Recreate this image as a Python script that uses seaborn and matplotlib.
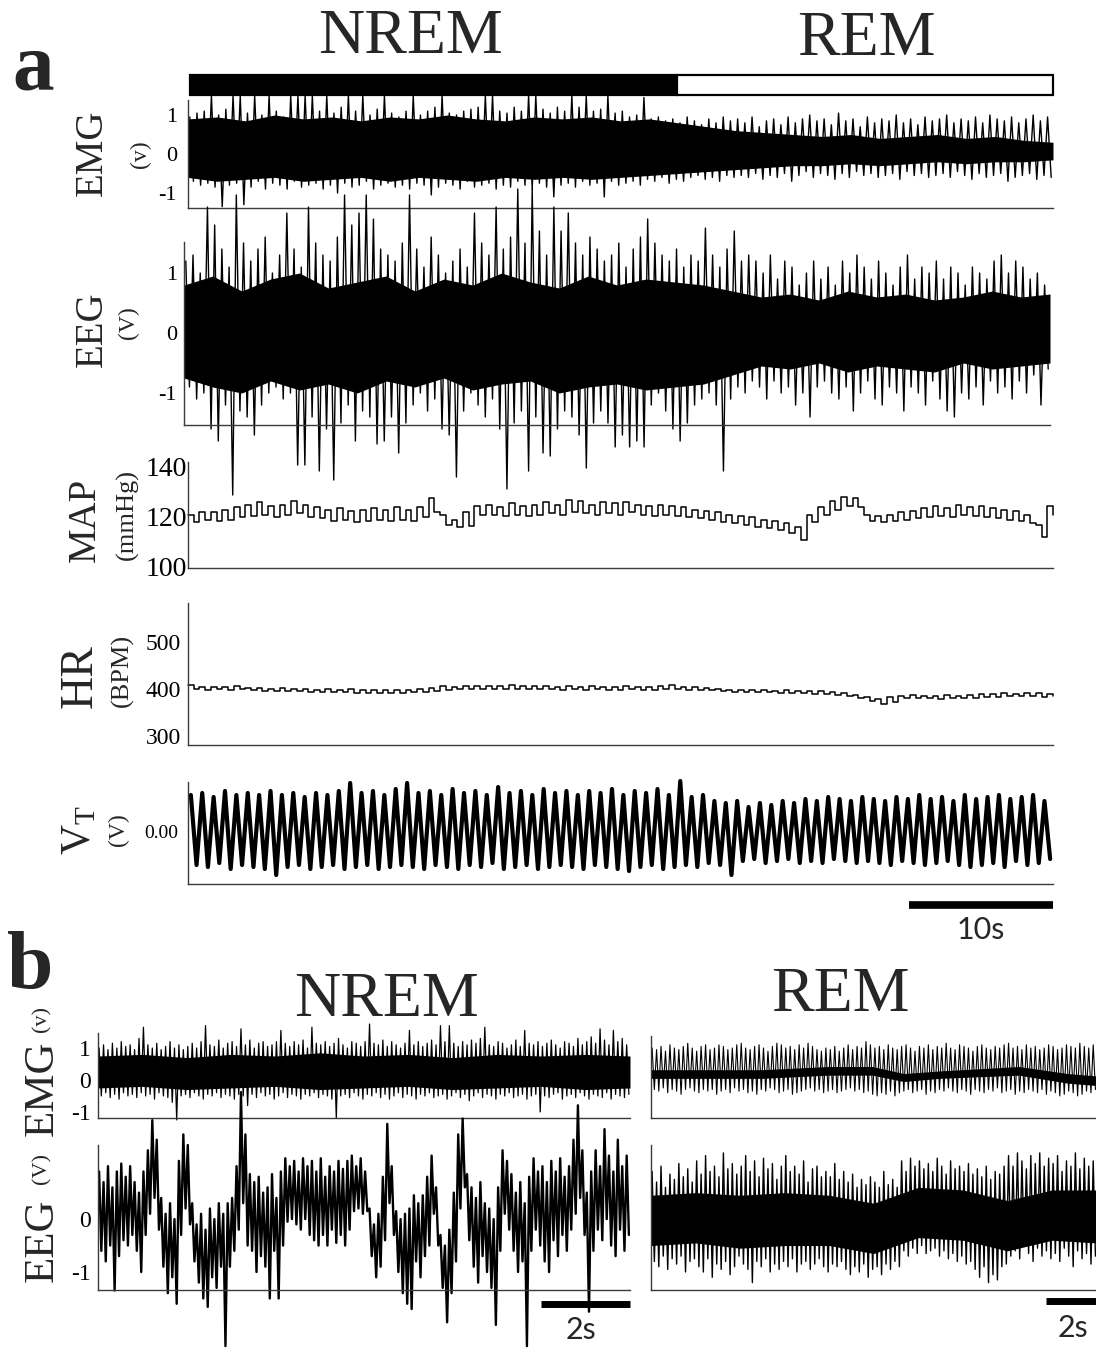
import numpy as np
import matplotlib
matplotlib.use("Agg")
import matplotlib.pyplot as plt
import seaborn as sns

# ---------------- data ----------------
# state bar (seconds)
state_names = ["NREM", "REM"]
state_start = [0.15, 33.9]
state_dur = [33.75, 26.1]

# panel a: EMG (V) per 0.5 s: upper / lower extremes
emg_a_hi = [0.95, 1.05, 1.1, 1.5, 1.0, 1.15, 1.5, 1.5, 1.05, 1.5,
            1.0, 1.5, 1.1, 0.95, 1.5, 1.5, 1.5, 1.5, 1.1, 1.5,
            1.05, 1.2, 1.5, 1.1, 1.5, 1.0, 1.15, 1.5, 1.05, 0.95,
            1.1, 1.5, 1.0, 1.1, 1.2, 1.5, 1.05, 1.0, 1.1, 1.15,
            1.2, 1.5, 1.5, 1.1, 1.05, 1.2, 1.1, 1.5, 1.5, 1.15,
            1.05, 1.2, 1.1, 1.5, 1.2, 1.5, 1.1, 1.15, 1.5, 1.05,
            1.1, 0.95, 1.0, 1.45, 0.9, 0.95, 0.85, 0.9, 0.8, 0.95,
            0.85, 0.75, 0.9, 0.8, 0.95, 0.85, 0.9, 0.8, 0.95, 0.7,
            0.85, 0.9, 0.75, 0.95, 0.8, 0.9, 1.0, 0.85, 0.9, 0.75,
            1.05, 0.85, 0.9, 0.7, 0.95, 0.8, 0.9, 0.85, 1.0, 0.8,
            0.9, 0.75, 0.95, 0.85, 0.9, 1.0, 0.8, 0.9, 0.85, 0.95,
            0.8, 1.0, 0.9, 0.85, 0.95, 0.8, 0.9, 1.0, 0.85, 0.95]
emg_a_lo = [-0.7, -0.8, -0.75, -0.85, -1.35, -0.8, -0.75, -1.3, -0.85, -0.7,
            -0.9, -0.75, -0.8, -0.9, -0.7, -0.85, -0.8, -0.75, -0.9, -0.8,
            -1.0, -0.75, -0.85, -0.8, -0.7, -0.9, -0.8, -0.75, -0.85, -0.8,
            -0.9, -0.75, -0.8, -1.05, -0.85, -0.75, -0.8, -0.9, -0.7, -0.85,
            -0.8, -0.75, -0.9, -0.8, -0.85, -0.7, -0.8, -0.9, -0.75, -0.85,
            -1.1, -0.8, -0.75, -0.85, -0.7, -0.8, -0.75, -1.1, -0.7, -0.8,
            -0.75, -0.7, -0.8, -0.65, -0.7, -0.6, -0.75, -0.65, -0.7, -0.6,
            -0.55, -0.65, -0.6, -0.7, -0.55, -0.6, -0.55, -0.6, -0.5, -0.65,
            -0.55, -0.6, -0.5, -0.7, -0.55, -0.45, -0.6, -0.5, -0.55, -0.65,
            -0.5, -0.6, -0.45, -0.55, -0.5, -0.6, -0.55, -0.5, -0.65, -0.45,
            -0.55, -0.5, -0.6, -0.55, -0.5, -0.6, -0.45, -0.55, -0.65, -0.5,
            -0.6, -0.55, -0.5, -0.7, -0.6, -0.55, -0.5, -0.65, -0.55, -0.6]
# dense part of the EMG band, every 2 s
emg_a_core_hi = [0.9, 0.95, 0.85, 1.0, 0.9, 0.95, 0.85, 0.95, 0.9, 1.0,
                 0.9, 0.85, 0.95, 0.9, 0.95, 0.85, 0.9, 0.8, 0.7, 0.6,
                 0.55, 0.5, 0.45, 0.5, 0.4, 0.45, 0.5, 0.4, 0.45, 0.35, 0.3]
emg_a_core_lo = [-0.6, -0.7, -0.65, -0.6, -0.7, -0.65, -0.6, -0.7, -0.6, -0.65,
                 -0.7, -0.6, -0.65, -0.6, -0.65, -0.6, -0.55, -0.5, -0.45, -0.4,
                 -0.35, -0.3, -0.3, -0.25, -0.3, -0.25, -0.2, -0.25, -0.2, -0.2, -0.15]

# panel a: EEG (V) per 0.5 s
eeg_a_hi = [1.2, 1.3, 1.0, 2.1, 1.8, 1.4, 1.1, 2.3, 1.5, 1.2,
            1.4, 1.6, 1.0, 1.3, 2.0, 1.4, 1.1, 2.1, 1.5, 1.3,
            1.2, 1.6, 2.3, 1.8, 2.0, 2.3, 1.9, 1.4, 1.3, 1.2,
            1.5, 2.3, 1.4, 1.1, 1.6, 1.3, 1.0, 1.2, 1.4, 1.1,
            2.0, 1.5, 1.3, 2.1, 1.4, 1.6, 2.4, 1.5, 2.4, 1.7,
            1.3, 2.1, 1.7, 2.0, 1.5, 1.3, 1.6, 1.4, 1.2, 1.3,
            1.5, 1.1, 1.4, 1.6, 1.9, 1.5, 1.3, 1.2, 1.4, 1.1,
            1.3, 1.2, 1.75, 1.3, 1.1, 1.4, 1.7, 1.2, 1.3, 1.2,
            1.0, 1.3, 0.9, 1.2, 1.1, 0.8, 1.0, 1.2, 0.9, 1.1,
            0.8, 1.2, 1.0, 1.3, 1.1, 0.9, 1.2, 1.0, 0.8, 1.1,
            1.3, 0.9, 1.1, 1.0, 1.2, 0.9, 1.1, 1.0, 0.8, 1.1,
            1.0, 0.9, 1.2, 1.3, 1.0, 1.2, 1.1, 0.9, 1.0, 0.8]
eeg_a_lo = [-0.9, -1.1, -1.0, -1.6, -1.8, -1.2, -2.7, -1.3, -1.4, -1.7,
            -1.2, -1.0, -0.9, -1.1, -1.0, -2.2, -2.2, -1.4, -2.3, -1.6,
            -2.45, -1.5, -1.2, -1.8, -1.3, -1.4, -1.85, -1.8, -1.4, -2.0,
            -1.5, -1.2, -1.0, -1.3, -1.1, -1.6, -1.7, -2.4, -1.3, -1.0,
            -1.2, -1.4, -1.1, -1.6, -2.6, -1.5, -1.3, -2.3, -1.4, -2.0,
            -2.05, -1.6, -1.3, -1.4, -1.7, -2.25, -1.5, -1.3, -1.5, -1.9,
            -1.7, -1.9, -1.8, -1.9, -1.2, -1.0, -1.3, -1.6, -1.8, -1.5,
            -1.2, -1.1, -1.0, -1.2, -2.3, -1.1, -0.9, -1.0, -0.8, -0.9,
            -1.1, -0.8, -1.0, -0.9, -1.2, -1.0, -1.4, -0.9, -0.8, -1.0,
            -1.1, -0.9, -1.3, -1.0, -0.8, -1.1, -1.2, -0.9, -1.0, -1.3,
            -0.9, -1.0, -1.2, -0.8, -1.1, -1.3, -1.4, -1.0, -1.1, -0.9,
            -1.2, -0.8, -1.0, -0.9, -1.1, -0.8, -1.0, -0.7, -1.2, -0.6]
# dense part of the EEG band, every 2 s
eeg_a_core_hi = [0.8, 0.95, 0.7, 0.9, 1.0, 0.75, 0.85, 0.95, 0.7, 0.9,
                 0.8, 1.0, 0.85, 0.75, 0.95, 0.8, 0.9, 0.85, 0.8, 0.7,
                 0.6, 0.65, 0.55, 0.7, 0.6, 0.65, 0.55, 0.6, 0.7, 0.6, 0.65]
eeg_a_core_lo = [-0.75, -0.9, -1.0, -0.8, -0.95, -0.85, -1.0, -0.8, -0.9, -0.75,
                 -0.95, -0.85, -0.8, -1.0, -0.9, -0.85, -0.95, -0.9, -0.85, -0.7,
                 -0.55, -0.6, -0.5, -0.65, -0.55, -0.6, -0.65, -0.5, -0.6, -0.55, -0.5]

# panel a: MAP (mmHg), two levels per breath
map_hi = [121, 122, 122, 123, 124, 125, 126, 124.5, 125, 126.5,
          125, 124, 123, 123.5, 122.5, 123, 123.5, 123, 124, 123,
          124, 127.5, 121, 119, 122, 124.5, 125, 124, 125.5, 124.5,
          125, 126, 125, 127, 126.5, 125, 126, 125.5, 126, 125,
          124.5, 125, 124.5, 124, 123, 122.5, 122, 121, 120.5, 120,
          119, 118.5, 117.5, 116, 121, 124, 126.5, 128, 127.5, 121,
          120.5, 121, 122, 122.5, 123.5, 124.5, 123.5, 125, 124, 124.5,
          123.5, 123, 122.5, 121, 117, 124.5]
map_lo = [118, 119, 118.5, 119, 120, 120.5, 121, 120, 121, 121.5,
          120, 119.5, 118.5, 119, 118, 118.5, 119, 118.5, 119, 118.5,
          120, 122, 117, 116, 116.5, 121, 121, 120.5, 121, 120.5,
          121, 121.5, 121, 122, 121.5, 121, 121.5, 121, 122, 121,
          120.5, 121, 120.5, 120, 119.5, 119, 118, 117.5, 117, 116,
          115.5, 115, 113.5, 111, 118, 121, 123, 124.5, 124, 118.5,
          118, 118.5, 119, 119.5, 120, 120.5, 120, 121, 120.5, 120,
          119.5, 119, 118.5, 117.5, 112, 121]

# panel a: HR (BPM)
hr_hi = [408, 404, 405, 404, 406, 403, 402, 401, 402, 400,
         401, 399, 400, 398, 400, 398, 399, 397, 398, 399,
         401, 403, 406, 405, 407, 406, 407, 406, 408, 406,
         407, 406, 405, 407, 405, 406, 404, 405, 406, 404,
         405, 406, 408, 405, 404, 402, 401, 399, 398, 397,
         398, 396, 397, 395, 396, 395, 394, 392, 388, 384,
         378, 383, 386, 387, 386, 385, 387, 386, 388, 390,
         389, 391, 390, 392, 391, 390]
hr_lo = [400, 399, 400, 398, 400, 397, 396, 396, 395, 395,
         394, 394, 393, 393, 392, 392, 391, 392, 391, 393,
         394, 396, 399, 400, 401, 400, 401, 400, 401, 400,
         401, 400, 399, 400, 399, 400, 399, 399, 400, 398,
         399, 400, 401, 399, 398, 397, 396, 394, 394, 393,
         393, 392, 392, 391, 390, 389, 388, 386, 382, 375,
         368, 372, 380, 381, 380, 379, 380, 381, 382, 384,
         384, 385, 385, 386, 384, 386]

# panel a: tidal volume signal (V), peak / trough per breath
vt_peak = [0.9, 0.95, 0.85, 1.0, 0.9, 0.95, 0.9, 1.0, 0.9, 0.95,
           0.85, 0.95, 0.9, 1.0, 1.2, 0.95, 1.0, 0.9, 1.05, 1.2,
           0.95, 1.0, 0.9, 1.05, 0.95, 1.0, 0.9, 1.1, 0.95, 1.0,
           0.9, 1.05, 0.95, 1.0, 0.9, 1.0, 0.95, 1.05, 0.9, 1.0,
           0.95, 1.05, 0.9, 1.25, 0.85, 0.9, 0.75, 0.7, 0.75, 0.6,
           0.7, 0.65, 0.75, 0.7, 0.8, 0.75, 0.85, 0.8, 0.75, 0.85,
           0.8, 0.75, 0.85, 0.8, 0.9, 0.8, 0.85, 0.75, 0.9, 0.8,
           0.85, 0.9, 0.8, 0.85, 0.9, 0.75]
vt_trough = [-0.85, -0.9, -0.8, -0.95, -0.85, -0.9, -0.95, -1.1, -0.9, -0.85,
             -0.95, -0.9, -0.85, -0.95, -0.9, -0.85, -0.95, -0.9, -0.85, -0.9,
             -0.95, -0.85, -0.9, -0.95, -0.85, -0.9, -0.8, -0.95, -0.9, -0.85,
             -0.95, -0.9, -0.85, -0.9, -0.95, -0.85, -0.9, -0.95, -1.0, -0.9,
             -0.85, -0.95, -0.9, -0.85, -0.9, -0.8, -0.85, -1.1, -0.75, -0.7,
             -0.8, -0.75, -0.7, -0.8, -0.75, -0.8, -0.7, -0.75, -0.8, -0.75,
             -0.8, -0.85, -0.75, -0.8, -0.85, -0.8, -0.75, -0.85, -0.9, -0.85,
             -0.8, -0.9, -0.75, -0.85, -0.8, -0.7]

# panel b, NREM: EMG and EEG per 0.1 s
emg_bn_hi = [1.0, 1.1, 0.95, 1.15, 1.0, 1.2, 1.05, 1.1, 0.95, 1.3,
             1.65, 1.1, 1.0, 1.15, 0.95, 1.05, 1.2, 1.0, 1.1, 0.95,
             1.05, 1.15, 1.0, 1.2, 1.7, 1.1, 1.05, 1.25, 1.0, 1.15,
             1.2, 1.05, 1.6, 1.1, 1.25, 1.0, 1.15, 1.2, 1.05, 1.1,
             1.2, 1.55, 1.15, 1.05, 1.2, 1.1, 1.25, 1.0, 1.65, 1.15,
             1.1, 1.2, 1.05, 1.15, 1.3, 1.1, 1.0, 1.2, 1.15, 1.05,
             1.2, 1.75, 1.15, 1.1, 1.25, 1.05, 1.2, 1.1, 1.0, 1.15,
             1.55, 1.1, 1.2, 1.05, 1.15, 1.25, 1.1, 1.7, 1.2, 1.7,
             1.15, 1.05, 1.2, 1.1, 1.25, 1.15, 1.3, 1.65, 1.1, 1.05,
             1.2, 1.15, 1.0, 1.1, 1.25, 1.05, 1.55, 1.15, 1.1, 1.2,
             1.05, 1.15, 1.25, 1.1, 1.0, 1.2, 1.15, 1.05, 1.3, 1.1,
             1.2, 1.35, 1.15, 1.6, 1.25, 1.1, 1.55, 1.2, 1.3, 1.1]
emg_bn_lo = [-0.5, -0.4, -0.55, -0.45, -0.6, -0.4, -0.5, -0.45, -0.55, -0.4,
             -0.5, -0.45, -0.6, -0.4, -0.5, -0.55, -0.7, -1.25, -0.5, -0.45,
             -0.55, -0.4, -0.5, -0.6, -0.45, -0.5, -0.4, -0.55, -0.45, -0.5,
             -0.6, -0.45, -0.5, -0.8, -0.45, -0.55, -0.4, -0.5, -0.45, -0.6,
             -0.5, -0.4, -0.55, -0.45, -0.5, -0.6, -0.45, -0.5, -0.4, -0.55,
             -0.45, -0.5, -0.6, -1.2, -0.5, -0.45, -0.55, -0.4, -0.5, -0.6,
             -0.45, -0.5, -0.4, -0.55, -0.45, -0.6, -0.5, -0.4, -0.55, -0.45,
             -0.5, -0.6, -0.45, -0.5, -0.4, -0.55, -0.5, -0.45, -0.6, -0.5,
             -0.4, -0.55, -0.45, -0.65, -0.5, -0.4, -0.55, -0.45, -0.5, -0.6,
             -0.45, -0.5, -0.4, -0.55, -0.5, -0.45, -0.6, -0.5, -0.45, -1.0,
             -0.5, -0.55, -0.45, -0.4, -0.6, -0.5, -0.45, -0.55, -0.4, -0.5,
             -0.6, -0.45, -0.5, -0.55, -0.4, -0.6, -0.45, -0.5, -0.55, -0.45]
emg_bn_core_hi = [0.75, 0.8, 0.7, 0.8, 0.75, 0.85, 0.75, 0.8, 0.7, 0.8, 0.75, 0.8, 0.75]
emg_bn_core_lo = [-0.25, -0.2, -0.3, -0.25, -0.2, -0.3, -0.25, -0.2, -0.3, -0.25, -0.2, -0.3, -0.25]

eeg_bn_hi = [0.9, 0.7, 1.0, 0.6, 0.9, 1.05, 0.8, 1.0, 0.7, 0.5,
             0.9, 1.3, 1.87, 1.5, 0.4, 0.1, 0.3, 0.0, 1.1, 1.6,
             1.4, 0.3, -0.1, 0.1, -0.2, 0.2, 0.0, 0.3, 0.1, 0.3,
             0.4, 1.0, 2.4, 1.6, 0.85, 0.7, 0.8, 0.5, 0.6, 0.85,
             0.4, 0.9, 1.15, 1.0, 1.1, 0.9, 1.15, 1.0, 1.1, 0.9,
             1.15, 0.8, 1.0, 0.9, 1.1, 0.95, 1.1, 1.2, 1.0, 1.15,
             0.9, 0.2, -0.1, 0.1, 0.8, 1.8, 1.0, 0.15, 0.0, 0.1,
             0.2, 0.45, 0.3, 0.45, 0.8, 1.2, 0.6, -0.3, -0.5, -0.2,
             0.5, 1.6, 1.9, 0.85, 0.6, 0.4, 0.7, 0.3, 0.2, 0.0,
             0.6, 1.3, 1.1, 0.85, 0.5, 0.7, 0.3, 0.8, 1.15, 0.9,
             1.0, 0.7, 1.1, 0.9, 1.15, 0.8, 1.0, 1.5, 2.15, 1.3,
             0.5, 0.9, 1.3, 1.0, 1.7, 1.2, 0.9, 1.5, 1.0, 1.2]
eeg_bn_lo = [-0.6, -0.8, -0.5, -1.35, -0.7, -0.4, -0.5, -0.3, -0.6, -1.0,
             -0.3, 0.1, 0.4, -0.2, -0.9, -1.4, -1.1, -1.6, -0.3, 0.2,
             -0.1, -0.8, -1.2, -1.5, -1.66, -1.1, -1.3, -0.9, -2.4, -0.9,
             -0.6, -0.2, 0.3, -0.5, -0.6, -1.0, -0.7, -0.9, -1.5, -0.6,
             -1.5, -0.5, -0.05, 0.0, -0.1, -0.2, 0.0, -0.3, -0.4, -0.5,
             -0.3, -0.5, -0.2, -0.45, -0.3, -0.5, -0.2, 0.15, 0.2, 0.1,
             0.15, -0.7, -1.1, -0.9, -0.4, 0.3, -0.3, -1.0, -1.4, -1.6,
             -1.7, -0.8, -1.1, -0.7, -0.5, 0.1, -0.5, -1.3, -1.95, -1.4,
             -0.8, 0.2, 0.6, -0.4, -0.9, -1.2, -0.7, -1.0, -1.3, -2.0,
             -0.6, 0.1, -0.2, -0.6, -1.0, -0.8, -2.4, -0.6, -0.2, -0.5,
             -0.8, -1.0, -0.4, -0.7, -0.3, -0.6, -0.2, 0.1, 0.4, -0.3,
             -1.75, -0.6, -0.2, -0.4, 0.0, -0.5, -0.7, -0.2, -0.6, -0.3]

# panel b, REM: EMG and EEG per 0.1 s (visible 10 s)
emg_br_hi = [1.0, 0.95, 1.05, 0.9, 1.1, 1.0, 0.95, 1.05, 1.15, 1.0,
             0.9, 1.05, 1.1, 0.95, 1.0, 1.1, 1.05, 0.95, 1.0, 1.1,
             1.15, 1.0, 0.95, 1.05, 1.1, 1.0, 0.9, 1.05, 1.15, 1.1,
             1.0, 1.05, 0.95, 1.1, 1.0, 1.15, 1.05, 0.95, 0.9, 1.0,
             0.95, 1.05, 0.9, 1.0, 1.1, 0.95, 1.05, 1.0, 1.2, 1.1,
             1.0, 1.05, 0.95, 1.1, 1.0, 0.95, 1.05, 1.1, 1.0, 0.9,
             1.05, 1.0, 1.1, 0.95, 1.05, 1.0, 1.15, 1.0, 0.95, 1.1,
             1.05, 1.0, 0.9, 1.05, 1.1, 1.0, 0.95, 1.05, 1.0, 1.1,
             1.15, 1.0, 1.05, 0.95, 1.1, 1.0, 1.05, 0.95, 1.0, 1.1,
             1.05, 0.95, 1.0, 1.1, 1.05, 1.0, 1.15, 1.05, 1.0, 1.1]
emg_br_lo = [-0.3, -0.35, -0.25, -0.4, -0.3, -0.35, -0.45, -0.3, -0.25, -0.35,
             -0.4, -0.3, -0.35, -0.3, -0.45, -0.35, -0.3, -0.4, -0.25, -0.35,
             -0.3, -0.4, -0.35, -0.45, -0.3, -0.35, -0.25, -0.3, -0.4, -0.35,
             -0.3, -0.45, -0.4, -0.35, -0.3, -0.25, -0.35, -0.3, -0.4, -0.35,
             -0.3, -0.4, -0.35, -0.3, -0.25, -0.35, -0.3, -0.4, -0.35, -0.45,
             -0.5, -0.4, -0.45, -0.35, -0.5, -0.4, -0.35, -0.3, -0.4, -0.35,
             -0.3, -0.45, -0.35, -0.4, -0.3, -0.35, -0.25, -0.35, -0.4, -0.3,
             -0.35, -0.45, -0.3, -0.35, -0.4, -0.3, -0.35, -0.25, -0.4, -0.35,
             -0.3, -0.45, -0.35, -0.4, -0.3, -0.35, -0.4, -0.3, -0.45, -0.35,
             -0.4, -0.5, -0.45, -0.35, -0.4, -0.5, -0.45, -0.35, -0.4, -0.3]
emg_br_core_t = [0, 2.5, 4.0, 5.0, 5.7, 6.5, 8.3, 9.4, 10.1]
emg_br_core_hi = [0.32, 0.32, 0.42, 0.42, 0.2, 0.28, 0.42, 0.2, 0.12]
emg_br_core_lo = [0.05, 0.05, 0.15, 0.15, -0.05, 0.05, 0.15, -0.1, -0.18]

eeg_br_hi = [0.9, 0.7, 1.0, 0.6, 0.85, 0.75, 1.05, 0.8, 0.95, 0.7,
             1.1, 0.85, 1.2, 0.9, 1.0, 0.8, 1.25, 0.95, 1.05, 0.85,
             1.0, 1.2, 0.9, 1.1, 0.8, 1.15, 0.95, 1.05, 0.75, 1.0,
             1.2, 0.9, 1.0, 0.85, 1.1, 0.7, 0.95, 1.0, 0.8, 0.9,
             0.8, 1.05, 0.75, 0.9, 0.7, 0.85, 0.6, 0.75, 0.65, 0.8,
             0.7, 0.6, 0.9, 0.65, 0.75, 0.6, 1.1, 0.9, 1.15, 1.0,
             1.1, 0.95, 1.05, 0.9, 1.15, 1.0, 0.85, 1.1, 0.95, 1.0,
             0.9, 1.05, 0.85, 0.95, 0.8, 1.0, 0.75, 0.9, 0.85, 1.0,
             1.2, 1.0, 1.25, 1.1, 0.95, 1.2, 1.05, 1.25, 1.0, 1.15,
             1.05, 1.2, 0.9, 1.1, 1.0, 1.25, 0.95, 1.15, 1.0, 1.1]
eeg_br_lo = [-0.8, -0.9, -0.7, -0.95, -0.75, -0.85, -0.7, -1.0, -0.8, -0.75,
             -0.9, -1.0, -0.75, -1.1, -0.85, -0.95, -0.8, -1.05, -0.9, -0.7,
             -0.85, -0.95, -1.2, -0.8, -0.9, -0.75, -1.0, -0.85, -0.95, -0.8,
             -0.9, -0.75, -1.0, -0.85, -0.8, -0.95, -0.85, -0.75, -0.9, -1.0,
             -0.85, -0.9, -0.8, -0.95, -1.05, -0.9, -1.0, -0.85, -1.1, -0.95,
             -0.9, -1.05, -0.85, -0.95, -0.8, -0.9, -0.6, -0.7, -0.55, -0.65,
             -0.5, -0.65, -0.6, -0.55, -0.7, -0.6, -0.75, -0.65, -0.8, -0.7,
             -0.85, -0.8, -0.95, -1.1, -0.9, -1.2, -1.05, -1.15, -0.9, -0.85,
             -0.7, -0.6, -0.75, -0.5, -0.65, -0.8, -0.55, -0.7, -0.6, -0.75,
             -0.65, -0.8, -0.55, -0.7, -0.9, -0.6, -0.75, -0.65, -0.85, -0.7]
eeg_br_core_hi = [0.45, 0.5, 0.45, 0.5, 0.45, 0.3, 0.6, 0.55, 0.35, 0.55, 0.55]
eeg_br_core_lo = [-0.5, -0.45, -0.55, -0.5, -0.5, -0.65, -0.35, -0.4, -0.6, -0.4, -0.45]

# durations / scale bars
span_a = 60.0
span_b = 12.0
span_br_data = 10.05
scale_a = 10
scale_b = 2

# ---------------- drawing ----------------
sns.set_theme(style="white")
SERIF = ["Liberation Serif", "DejaVu Serif"]
SANS = ["Lato", "DejaVu Sans"]
plt.rcParams["font.family"] = SERIF
plt.rcParams["mathtext.fontset"] = "custom"
plt.rcParams["mathtext.rm"] = "Liberation Serif"
plt.rcParams["mathtext.it"] = "Liberation Serif:italic"

W, H = 1096, 1348
fig = plt.figure(figsize=(W / 100, H / 100), dpi=100)
fig.patch.set_facecolor("white")
SPINE = "#3a3a3a"


def add_ax(x0, y0, x1, y1):
    return fig.add_axes([x0 / W, 1 - y1 / H, (x1 - x0) / W, (y1 - y0) / H])


def ftext(x, y, s, **kw):
    fig.text(x / W, 1 - y / H, s, family=SERIF, **kw)


def style(ax, xlim, ylim, ticks=None, labels=None, fs=16, pad=5):
    ax.set_xlim(*xlim)
    ax.set_ylim(*ylim)
    for s in ["top", "right"]:
        ax.spines[s].set_visible(False)
    for s in ["left", "bottom"]:
        ax.spines[s].set_color(SPINE)
        ax.spines[s].set_linewidth(1.0)
    ax.set_xticks([])
    if ticks is None:
        ax.set_yticks([])
    else:
        ax.set_yticks(ticks)
        ax.set_yticklabels(labels, family=SERIF)
    ax.tick_params(axis="y", length=0, pad=pad, labelsize=fs, labelcolor="black")
    ax.set_xlabel("")
    ax.set_ylabel("")
    ax.patch.set_alpha(0)


def zigzag(hi, lo, span):
    n = min(len(hi), len(lo))
    dt = span / n
    t = np.empty(2 * n)
    v = np.empty(2 * n)
    idx = np.arange(n)
    t[0::2] = (idx + 0.25) * dt
    t[1::2] = (idx + 0.75) * dt
    v[0::2] = hi[:n]
    v[1::2] = lo[:n]
    return t, v


def trace(ax, t, v, lw=0.8, **kw):
    sns.lineplot(x=t, y=v, ax=ax, color="black", lw=lw, estimator=None,
                 sort=False, clip_on=False, **kw)


def core(ax, lo, hi, span, t=None):
    if t is None:
        t = np.linspace(0, span, len(hi))
    ax.fill_between(t, lo, hi, color="black", lw=0, clip_on=False)


# --- state bar
axs = add_ax(188, 75, 1053, 95)
bars = axs.barh([0] * len(state_names), state_dur, left=state_start, height=1.0,
                color=["black", "white"], edgecolor="black", linewidth=1.6)
for p in bars:
    p.set_clip_on(False)
axs.set_xlim(0, span_a)
axs.set_ylim(-0.5, 0.5)
axs.axis("off")

# --- EMG a
ax = add_ax(188, 100, 1053, 208)
core(ax, emg_a_core_lo, emg_a_core_hi, span_a)
t, v = zigzag(emg_a_hi, emg_a_lo, span_a)
trace(ax, t, v, lw=1.0)
style(ax, (0, span_a), (-1.385, 1.385), [-1, 0, 1], ["-1", "0", "1"], fs=16, pad=8)

# --- EEG a
ax = add_ax(184, 242, 1050, 425)
core(ax, eeg_a_core_lo, eeg_a_core_hi, span_a)
t, v = zigzag(eeg_a_hi, eeg_a_lo, span_a)
trace(ax, t, v, lw=1.0)
style(ax, (0, span_a), (-1.533, 1.517), [-1, 0, 1], ["-1", "0", "1"], fs=16, pad=5)

# --- MAP
ax = add_ax(188, 462, 1053, 568)
n = len(map_hi)
tm = np.linspace(0, span_a, 2 * n)
vm = np.empty(2 * n)
vm[0::2] = map_hi
vm[1::2] = map_lo
trace(ax, tm, vm, lw=1.1, drawstyle="steps-post")
style(ax, (0, span_a), (99.6, 142), [100, 120, 140], ["100", "120", "140"], fs=20, pad=0.5)

# --- HR
ax = add_ax(188, 603, 1053, 745)
n = len(hr_hi)
th = np.linspace(0, span_a, 2 * n)
vh = np.empty(2 * n)
vh[0::2] = hr_hi
vh[1::2] = hr_lo
trace(ax, th, vh, lw=1.1, drawstyle="steps-post")
style(ax, (0, span_a), (281, 583), [300, 400, 500], ["300", "400", "500"], fs=17, pad=5)

# --- VT
ax = add_ax(188, 782, 1053, 884)
t, v = zigzag(vt_peak, vt_trough, span_a)
trace(ax, t, v, lw=3.0)
style(ax, (0, span_a), (-1.325, 1.225), [0], ["0.00"], fs=14, pad=7)
ax.plot([span_a - scale_a, span_a], [-1.85, -1.85], color="black", lw=5.5,
        solid_capstyle="butt", clip_on=False)
ax.text(span_a - scale_a / 2, -2.48, f"{scale_a}s", ha="center", va="center",
        fontsize=22, family=SANS)

# --- panel b NREM
ax = add_ax(98, 1033, 630, 1118)
core(ax, emg_bn_core_lo, emg_bn_core_hi, span_b)
t, v = zigzag(emg_bn_hi, emg_bn_lo, span_b)
trace(ax, t, v, lw=0.9)
style(ax, (0, span_b), (-1.19, 1.47), [-1, 0, 1], ["-1", "0", "1"], fs=17, pad=5)

ax = add_ax(98, 1145, 630, 1290)
t, v = zigzag(eeg_bn_hi, eeg_bn_lo, span_b)
trace(ax, t, v, lw=1.7)
style(ax, (0, span_b), (-1.34, 1.40), [-1, 0], ["-1", "0"], fs=17, pad=5)
ax.plot([span_b - scale_b, span_b], [-1.6, -1.6], color="black", lw=5,
        solid_capstyle="butt", clip_on=False)
ax.text(span_b - scale_b / 2 - 0.1, -2.09, f"{scale_b}s", ha="center", va="center",
        fontsize=22, family=SANS)

# --- panel b REM (runs past the right edge of the figure)
x_end = 651 + (630 - 98)
ax = add_ax(651, 1036, x_end, 1118)
core(ax, emg_br_core_lo, emg_br_core_hi, span_br_data, t=emg_br_core_t)
t, v = zigzag(emg_br_hi, emg_br_lo, span_br_data)
trace(ax, t, v, lw=0.8)
style(ax, (0, span_b), (-1.19, 1.375))

ax = add_ax(651, 1145, x_end, 1290)
core(ax, eeg_br_core_lo, eeg_br_core_hi, span_br_data)
t, v = zigzag(eeg_br_hi, eeg_br_lo, span_br_data)
trace(ax, t, v, lw=1.0)
style(ax, (0, span_b), (-1.34, 1.40))
ax.plot([8.9, 8.9 + scale_b], [-1.55, -1.55], color="black", lw=5,
        solid_capstyle="butt", clip_on=False)
ax.text(9.53, -2.06, f"{scale_b}s", ha="center", va="center", fontsize=22, family=SANS)

# ---------------- texts ----------------
ftext(33, 90, "a", fontsize=60, fontweight="bold", ha="center", va="baseline")
ftext(30, 988, "b", fontsize=60, fontweight="bold", ha="center", va="baseline")
ftext(411, 53, state_names[0], fontsize=46, ha="center", va="baseline")
ftext(866, 55, state_names[1], fontsize=46, ha="center", va="baseline")
ftext(386, 1016, state_names[0], fontsize=46, ha="center", va="baseline")
ftext(840, 1011, state_names[1], fontsize=46, ha="center", va="baseline")

rot = dict(rotation=90, ha="center", va="center")
ftext(92, 153, "EMG", fontsize=28, **rot)
ftext(140, 154, "(v)", fontsize=17, **rot)
ftext(92, 329, "EEG", fontsize=28, **rot)
ftext(128, 323, "(V)", fontsize=17, **rot)
ftext(85, 520, "MAP", fontsize=28, **rot)
ftext(127, 515, "(mmHg)", fontsize=19, **rot)
ftext(80, 676, "HR", fontsize=33, **rot)
ftext(122, 670, "(BPM)", fontsize=19, **rot)
ftext(80, 830, r"$\mathregular{V_T}$", fontsize=30, **rot)
ftext(118, 830, "(V)", fontsize=17, **rot)
ftext(42, 1088, "EMG", fontsize=31, **rot)
ftext(42, 1019, "(v)", fontsize=16, **rot)
ftext(42, 1240, "EEG", fontsize=31, **rot)
ftext(42, 1168, "(V)", fontsize=16, **rot)

fig.savefig("out.png", dpi=100, facecolor="white")
